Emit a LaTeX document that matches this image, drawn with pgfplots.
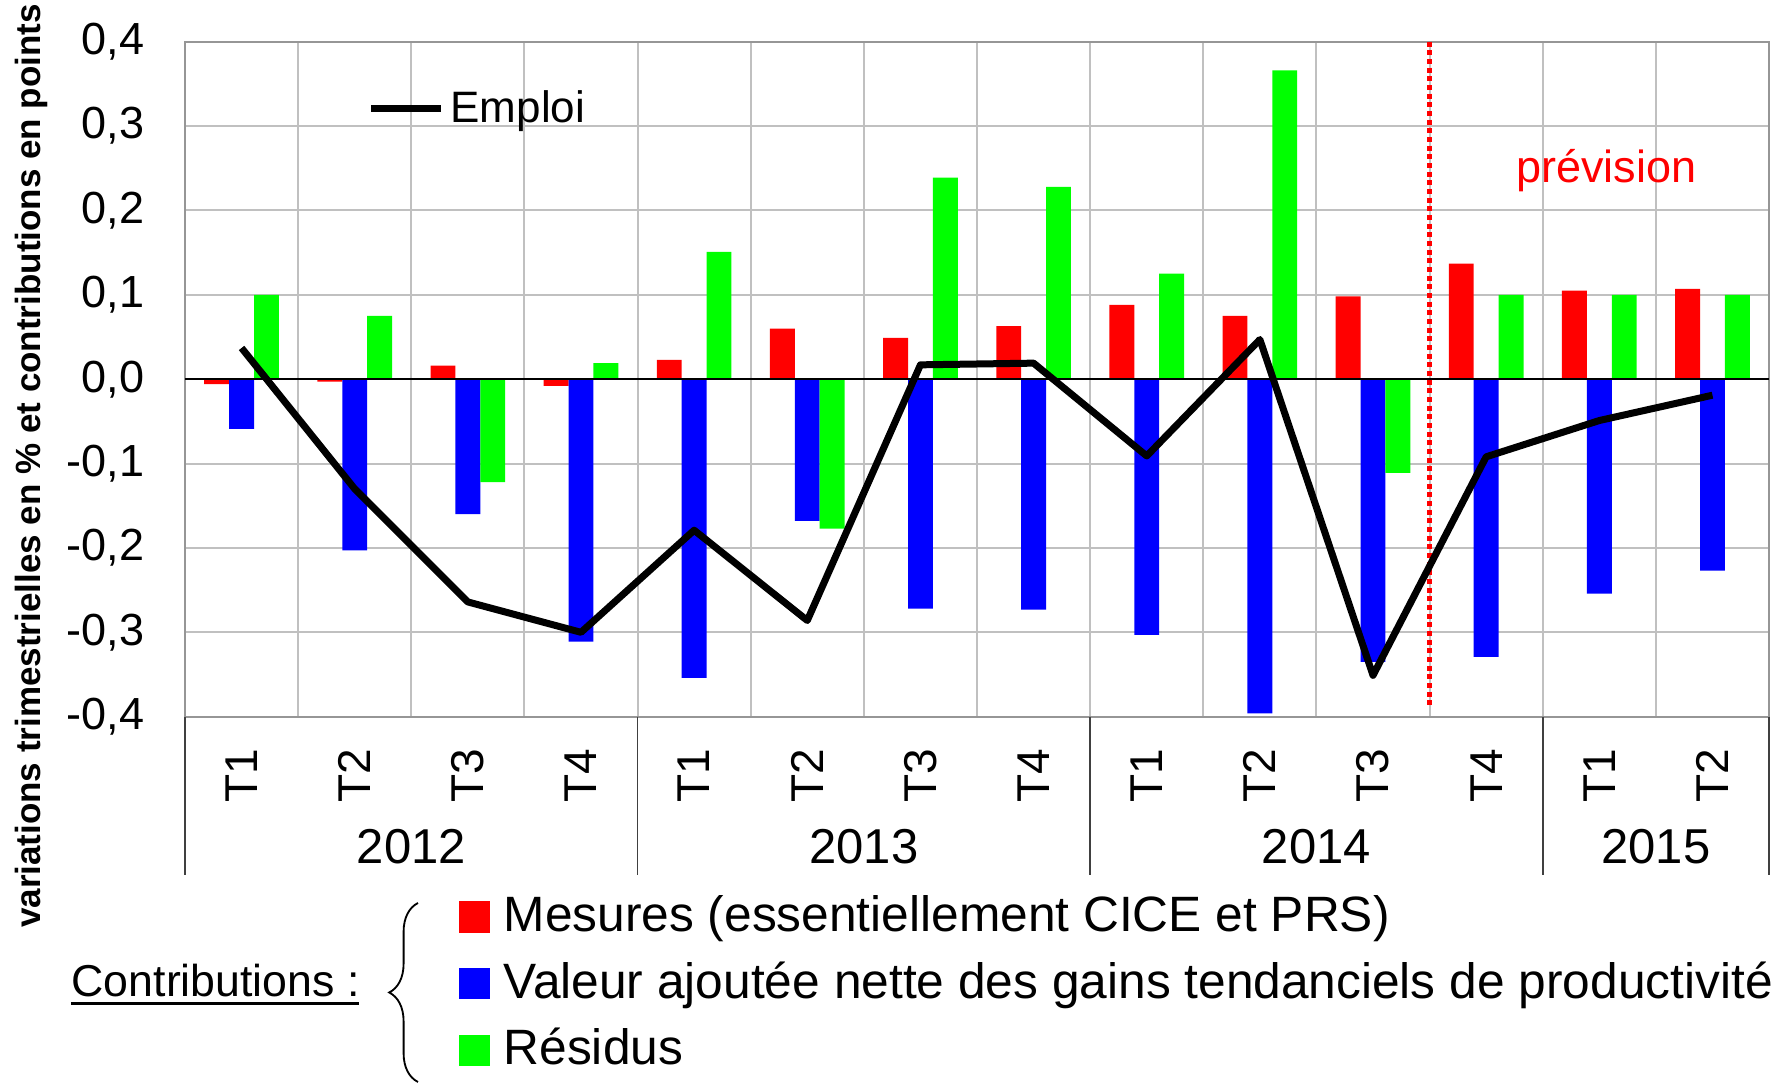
\documentclass[border=0pt]{standalone}
\usepackage{fontspec}
\setmainfont{Liberation Sans}
\usepackage{pgfplots}
\usepackage{pgfplotstable}
\pgfplotsset{compat=1.18}
\usetikzlibrary{decorations.pathreplacing}

\definecolor{barred}{RGB}{255,0,0}
\definecolor{barblue}{RGB}{0,0,255}
\definecolor{bargreen}{RGB}{0,255,0}
\definecolor{gridgray}{RGB}{192,192,192}
\definecolor{framegray}{RGB}{150,150,150}

% mes = Mesures, va = Valeur ajoutee, res = Residus, emp = Emploi
\pgfplotstableread{
x  mes    va     res    emp
0  -0.006 -0.059  0.100  0.037
1  -0.003 -0.203  0.075 -0.130
2   0.016 -0.160 -0.122 -0.264
3  -0.008 -0.311  0.019 -0.300
4   0.023 -0.354  0.151 -0.179
5   0.060 -0.168 -0.177 -0.286
6   0.049 -0.272  0.239  0.017
7   0.063 -0.273  0.228  0.019
8   0.088 -0.303  0.125 -0.091
9   0.075 -0.396  0.366  0.047
10  0.098 -0.335 -0.111 -0.351
11  0.137 -0.329  0.100 -0.092
12  0.105 -0.254  0.100 -0.049
13  0.107 -0.227  0.100 -0.019
}\contribs

\begin{document}
\begin{tikzpicture}
\begin{axis}[
    at={(0,0)}, anchor=south west,
    width=475.2bp, height=202.5bp, scale only axis,
    xmin=-0.5, xmax=13.5, ymin=-0.4, ymax=0.4,
    ytick={-0.4,-0.3,-0.2,-0.1,0,0.1,0.2,0.3,0.4},
    xtick={0,...,13},
    xticklabels={T1,T2,T3,T4,T1,T2,T3,T4,T1,T2,T3,T4,T1,T2},
    minor xtick={0.5,1.5,...,12.5},
    xminorgrids=true, ymajorgrids=true,
    major tick length=0pt, minor tick length=0pt,
    grid style={gridgray, line width=0.6bp},
    minor grid style={gridgray, line width=0.6bp},
    axis line style={framegray, line width=0.6bp},
    clip=false,
    /pgf/number format/assume math mode=true,
    yticklabel style={/pgf/number format/fixed, /pgf/number format/fixed zerofill,
        /pgf/number format/precision=1, /pgf/number format/use comma,
        font=\fontsize{13.5bp}{15bp}\selectfont, anchor=east, inner sep=0pt, xshift=-12bp},
    xticklabel style={rotate=90, anchor=east, inner sep=0pt,
        font=\fontsize{13.8bp}{15bp}\selectfont},
    xticklabel shift=9.4bp,
]
\addplot[ybar, bar width=0.22, bar shift=-0.22, fill=barred, draw=none] table[x=x, y=mes] {\contribs};
\addplot[ybar, bar width=0.22, bar shift=0, fill=barblue, draw=none] table[x=x, y=va] {\contribs};
\addplot[ybar, bar width=0.22, bar shift=0.22, fill=bargreen, draw=none] table[x=x, y=res] {\contribs};

\draw[black, line width=0.5bp] (axis cs:-0.5,0) -- (axis cs:13.5,0);
\draw[barred, line width=1.6bp, dash pattern=on 1.5bp off 1.1bp] (axis cs:10.5,0.4) -- (axis cs:10.5,-0.39);

\addplot[sharp plot, mark=none, black, line width=2.1bp, line join=round] table[x=x, y=emp] {\contribs};

% legende Emploi
\draw[black, line width=2bp] (axis cs:1.144,0.321) -- (axis cs:1.763,0.321);
\node[anchor=base west, inner sep=0pt, font=\fontsize{13.2bp}{15bp}\selectfont] at (axis cs:1.842,0.304) {Emploi};
\node[barred, anchor=base, inner sep=0pt, font=\fontsize{13.5bp}{15bp}\selectfont] at (axis cs:12.06,0.2326) {prévision};

% annees
\pgfplotsinvokeforeach{-0.5,3.5,7.5,11.5,13.5}{
    \draw[black!75, line width=0.45bp] (axis cs:#1,-0.4) -- ([yshift=-47.5bp]axis cs:#1,-0.4);
}
\node[font=\fontsize{14.7bp}{17bp}\selectfont] at (axis cs:1.5,-0.4) [yshift=-38.9bp] {2012};
\node[font=\fontsize{14.7bp}{17bp}\selectfont] at (axis cs:5.5,-0.4) [yshift=-38.9bp] {2013};
\node[font=\fontsize{14.7bp}{17bp}\selectfont] at (axis cs:9.5,-0.4) [yshift=-38.9bp] {2014};
\node[font=\fontsize{14.7bp}{17bp}\selectfont] at (axis cs:12.5,-0.4) [yshift=-38.9bp] {2015};
\end{axis}

\begin{scope}[x=0.3bp, y=-0.3bp, shift={(-185,-716.7)}]
\node[rotate=90, inner sep=0pt, font=\bfseries\fontsize{10.5bp}{12bp}\selectfont] at (31,466)
    {variations trimestrielles en \% et contributions en points};

\node[anchor=base west, inner sep=0pt, font=\fontsize{13.4bp}{16bp}\selectfont] at (71,996.7) {Contributions :};
\draw[line width=0.9bp] (71,1003.3) -- (359,1003.3);
\draw[line width=0.55bp, decorate, decoration={brace, amplitude=8.64bp}] (418,1082) -- (418,903);

\fill[barred] (459,901) rectangle (490,932.7);
\fill[barblue] (459,968.3) rectangle (490,999);
\fill[bargreen] (459,1035) rectangle (490,1065.7);
\node[anchor=base west, inner sep=0pt, font=\fontsize{14.9bp}{17bp}\selectfont] at (503,931.7)
    {Mesures (essentiellement CICE et PRS)};
\node[anchor=base west, inner sep=0pt, font=\fontsize{14.9bp}{17bp}\selectfont] at (503,999)
    {Valeur ajoutée nette des gains tendanciels de productivité};
\node[anchor=base west, inner sep=0pt, font=\fontsize{14.9bp}{17bp}\selectfont] at (503,1065)
    {Résidus};

\pgfresetboundingbox
\path[use as bounding box] (0,0) rectangle (1789,1083);
\end{scope}
\end{tikzpicture}
\end{document}
